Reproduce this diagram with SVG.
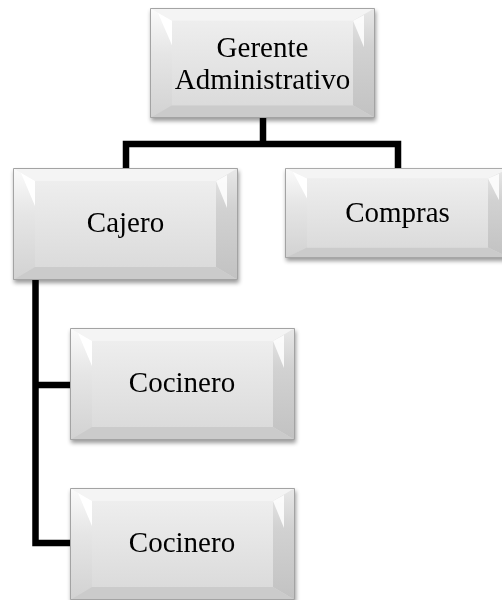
<svg xmlns="http://www.w3.org/2000/svg" xmlns:xlink="http://www.w3.org/1999/xlink" width="502" height="600" viewBox="0 0 502 600">
  <style>
    .conn { fill: none; stroke: #000; stroke-width: 6.5; stroke-linejoin: miter; stroke-linecap: butt; }
    .label { font-family: "Liberation Serif", "Times New Roman", serif; font-size: 29px; fill: #000; text-anchor: middle; }
    .node { filter: url(#shadow); }
  </style>
  <defs>
    <linearGradient id="face" x1="0" y1="0" x2="0" y2="1">
      <stop offset="0" stop-color="#f2f2f2"/>
      <stop offset="1" stop-color="#d6d6d6"/>
    </linearGradient>
    <linearGradient id="inner" x1="0" y1="0" x2="0" y2="1">
      <stop offset="0" stop-color="#eeeeee"/>
      <stop offset="1" stop-color="#dbdbdb"/>
    </linearGradient>
    <linearGradient id="leftBevel" x1="0" y1="0" x2="0" y2="1">
      <stop offset="0" stop-color="#fbfbfb"/>
      <stop offset="0.4" stop-color="#e6e6e6"/>
      <stop offset="1" stop-color="#d2d2d2"/>
    </linearGradient>
    <linearGradient id="rightBevel" x1="0" y1="0" x2="0" y2="1">
      <stop offset="0" stop-color="#e8e8e8"/>
      <stop offset="0.35" stop-color="#d2d2d2"/>
      <stop offset="1" stop-color="#c2c2c2"/>
    </linearGradient>
    <filter id="shadow" x="-10%" y="-10%" width="125%" height="130%">
      <feGaussianBlur in="SourceAlpha" stdDeviation="2"/>
      <feOffset dx="1" dy="3" result="b"/>
      <feComponentTransfer><feFuncA type="linear" slope="0.4"/></feComponentTransfer>
      <feMerge><feMergeNode/><feMergeNode in="SourceGraphic"/></feMerge>
    </filter>
    <!-- bevelled box, drawn in a 225 x 112 frame and stretched per node -->
    <symbol id="box" viewBox="0 0 225 112" preserveAspectRatio="none">
      <rect x="0" y="0" width="225" height="112" fill="url(#face)"/>
      <polygon points="0,0 225,0 203,13 22,13" fill="#f4f4f4"/>
      <polygon points="0,0 22,13 22,99 0,112" fill="url(#leftBevel)"/>
      <!-- glints in the upper corners of the side bevels -->
      <polygon points="8,5 22,13 22,38" fill="#ffffff"/>
      <polygon points="225,0 225,112 203,99 203,13" fill="url(#rightBevel)"/>
      <polygon points="203,13 214,7 214,40" fill="#ffffff" opacity="0.85"/>
      <polygon points="0,112 22,99 203,99 225,112" fill="#cbcbcb"/>
      <rect x="22" y="13" width="181" height="86" fill="url(#inner)"/>
      <rect x="0.5" y="0.5" width="224" height="111" fill="none" stroke="#a3a3a3" stroke-width="1" vector-effect="non-scaling-stroke"/>
    </symbol>
  </defs>

  <rect width="502" height="600" fill="#ffffff"/>

  <g id="connectors">
    <path class="conn" d="M263,117 V144"/>
    <path class="conn" d="M126,169 V144 H398 V169"/>
    <path class="conn" d="M35.5,279 V543 H71"/>
    <path class="conn" d="M35.5,385 H71"/>
  </g>

  <g id="gerente" class="node">
    <use xlink:href="#box" x="150" y="8" width="225" height="110"/>
    <text class="label" x="262.5" y="56.5">Gerente</text>
    <text class="label" x="262.5" y="88.5">Administrativo</text>
  </g>

  <g id="cajero" class="node">
    <use xlink:href="#box" x="13" y="168" width="225" height="112"/>
    <text class="label" x="125.5" y="232">Cajero</text>
  </g>

  <g id="compras" class="node">
    <use xlink:href="#box" x="285" y="168" width="225" height="90"/>
    <text class="label" x="397.5" y="222">Compras</text>
  </g>

  <g id="cocinero1" class="node">
    <use xlink:href="#box" x="70" y="328" width="225" height="112"/>
    <text class="label" x="182" y="392">Cocinero</text>
  </g>

  <g id="cocinero2" class="node">
    <use xlink:href="#box" x="70" y="488" width="225" height="112"/>
    <text class="label" x="182" y="552">Cocinero</text>
  </g>
</svg>
